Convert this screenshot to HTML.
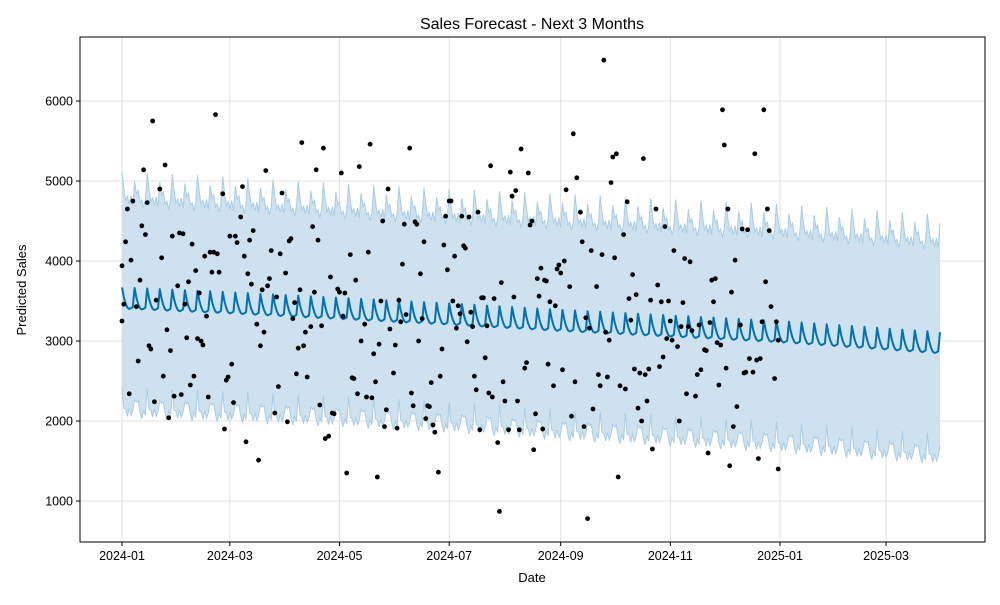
<!DOCTYPE html>
<html><head><meta charset="utf-8"><style>
html,body{margin:0;padding:0;background:#fff;}
svg text{font-family:"Liberation Sans","DejaVu Sans",sans-serif;fill:#000;}
</style></head><body>
<svg id="chart" width="1000" height="600" viewBox="0 0 1000 600" xmlns="http://www.w3.org/2000/svg">
<rect x="0" y="0" width="1000" height="600" fill="#fff"/>
<g id="grid"></g>
<g id="band"></g>
<g id="line"></g>
<g id="dots"></g>
<rect x="80" y="37" width="905" height="505" fill="none" stroke="#000" stroke-width="1"/>
<g id="axes"></g>
<text x="532" y="29" font-size="16" text-anchor="middle">Sales Forecast - Next 3 Months</text>
<text x="532" y="582" font-size="13" text-anchor="middle">Date</text>
<text x="26" y="290" font-size="13" text-anchor="middle" transform="rotate(-90 26 290)">Predicted Sales</text>
</svg>
<script>
const obsDays=[0,0,1,2,3,4,5,6,8,9,10,11,12,13,14,15,16,17,18,19,21,22,23,24,25,26,27,28,29,31,32,33,34,35,36,37,38,39,40,41,42,43,44,45,46,47,48,49,50,51,52,53,54,56,57,58,59,60,61,62,63,64,66,67,68,69,70,71,72,73,75,76,77,78,79,80,81,82,83,85,86,87,88,89,91,92,93,94,95,96,97,98,99,100,101,102,103,105,106,107,108,109,110,111,112,113,115,116,117,118,120,121,122,123,124,125,127,128,129,130,131,132,133,135,136,137,138,139,140,141,142,143,144,145,146,147,148,149,151,152,153,154,155,156,157,158,160,161,162,163,164,165,166,167,168,169,170,171,172,173,174,176,177,178,179,180,181,182,183,184,185,186,187,188,189,190,191,192,193,194,195,196,197,198,199,200,201,202,203,204,205,206,207,209,210,211,212,213,215,216,217,218,219,220,221,222,224,225,226,227,228,229,230,231,232,233,234,235,236,237,238,240,241,242,243,244,245,246,247,249,250,251,252,253,255,256,257,258,259,260,261,262,264,265,266,267,268,269,270,271,272,273,274,275,276,277,279,280,281,282,283,284,285,286,287,288,289,290,291,292,293,294,295,297,298,299,300,301,302,303,304,305,306,307,309,310,311,312,313,314,315,316,317,319,320,321,322,324,325,326,327,328,329,330,331,332,333,334,335,336,337,338,339,340,341,342,344,345,346,347,348,349,351,352,353,354,355,356,357,358,359,360,361,363,364,365,365];
const obsSales=[3250,3940,3460,4240,4650,2340,4010,4750,3430,2750,3760,4440,5140,4330,4730,2940,2900,5750,2240,3510,4900,4040,2560,5200,3140,2040,2880,4310,2310,3690,4350,2330,4340,3460,3040,3740,2450,4210,2560,3880,3030,3600,3000,2950,4060,3310,2300,4110,3860,4110,5830,4090,3860,4840,1900,2510,2550,4310,2710,2230,4310,4230,4550,4930,4060,1740,3840,4260,3710,4380,3210,1510,2940,3640,3110,5130,3690,3780,4130,2100,3550,2430,4090,4850,3850,1990,4250,4280,3280,3480,2590,2910,3640,5480,2940,3110,2550,3180,4430,3610,5140,4260,2200,3190,5410,1780,1810,3800,2100,2090,3650,3610,5100,3310,3600,1350,4080,2540,2530,3760,2340,5180,3000,3210,2300,4110,5460,2290,2840,2490,1300,2960,3500,4500,1930,2140,4900,3150,2600,2950,1910,3510,3240,3960,4460,3330,5410,2350,2190,4490,4460,3000,3840,3280,4240,2030,2190,2180,2480,1950,1860,1360,2560,2900,4200,4560,3890,4750,4750,3500,4060,3160,3440,3340,4560,4190,4160,2990,4550,3360,3180,2560,2390,4610,1890,3540,3540,2790,3190,2350,5190,2300,3530,1730,870,3730,2490,2250,1890,5110,4810,3550,4880,2250,1890,5400,2660,2730,5100,4450,4500,1640,2090,3780,3560,3910,1900,3760,3750,2710,3490,2440,3440,3900,3950,3850,2640,4000,4890,3680,2060,5590,2490,5040,4610,4240,1930,3290,780,3160,4130,2150,3680,2580,2440,4080,6510,3110,2550,3010,4980,5300,4040,5340,1300,2440,4330,2400,4740,3530,3260,3830,2650,3580,2160,2600,2000,5280,2580,2250,2650,3510,1650,4650,3700,2680,3490,2800,4430,3030,3500,3250,3010,4130,2930,2000,3180,3480,4030,2340,3180,3990,3130,2310,2580,3200,2640,2890,2880,1600,3230,3760,3490,3780,2980,2450,2950,5890,5450,2660,4650,1440,3610,1930,4010,2180,3200,4400,2600,2610,4390,2780,2610,5340,2760,1530,2780,3240,5890,3740,4650,4380,3430,2530,3240,3010,1400];
const trendDays=[0,60,121,182,244,305,366,455];
const trendValues=[3480,3420,3350,3280,3200,3130,3060,2920];
const weekly=[190,70,-10,-60,-75,-65,-50];
const bandHalf=[1330,1320,1310,1310,1330,1330,1340,1350];
const bandWiggle=[120,30,-40,60,-20,80,-60,10,-30,90,-10,40,-70,20];
const yTicks=[1000,2000,3000,4000,5000,6000];
const xTickDays=[0,60,121,182,244,305,366,425];
const xTickLabels=["2024-01","2024-03","2024-05","2024-07","2024-09","2024-11","2025-01","2025-03"];
const lastDay=455;

const NS="http://www.w3.org/2000/svg";
const xS=d=>122+d*(658/366);
const yS=v=>581-v*0.08;
function mk(tag,attrs,parent){const e=document.createElementNS(NS,tag);for(const k in attrs)e.setAttribute(k,attrs[k]);parent.appendChild(e);return e;}
function interp(ds,vs,d){for(let i=0;i<ds.length-1;i++){if(d<=ds[i+1]){const t=(d-ds[i])/(ds[i+1]-ds[i]);return vs[i]+t*(vs[i+1]-vs[i]);}}return vs[vs.length-1];}

const grid=document.getElementById('grid'),axes=document.getElementById('axes');
yTicks.forEach(v=>{
 const g=mk('line',{x1:80,x2:985,y1:yS(v),y2:yS(v),stroke:'#e0e0e0','stroke-width':1},grid);
 
 
 const t=mk('line',{x1:76,x2:80,y1:yS(v),y2:yS(v),stroke:'#000'},axes);
 
 
 const l=mk('text',{x:73,y:yS(v)+4.5,'font-size':12.5,'text-anchor':'end'},axes);
 l.textContent=v;
 
 
});
xTickDays.forEach((d,i)=>{
 const g=mk('line',{x1:xS(d),x2:xS(d),y1:37,y2:542,stroke:'#e0e0e0','stroke-width':1},grid);
 
 
 const t=mk('line',{x1:xS(d),x2:xS(d),y1:542,y2:546,stroke:'#000'},axes);
 
 
 const l=mk('text',{x:xS(d),y:560,'font-size':12.5,'text-anchor':'middle'},axes);
 l.textContent=xTickLabels[i];
 
 
});

const yhat=[],up=[],lo=[];
for(let d=0;d<=lastDay;d++){
 const y=interp(trendDays,trendValues,d)+weekly[d%7];
 const h=interp(trendDays,bandHalf,d);
 yhat.push(y);
 up.push(y+h+bandWiggle[d%14]);
 lo.push(y-h+bandWiggle[(d+5)%14]);
}
let upPts=up.map((v,d)=>xS(d).toFixed(1)+','+yS(v).toFixed(1));
let loPts=lo.map((v,d)=>xS(d).toFixed(1)+','+yS(v).toFixed(1));
const band=document.getElementById('band');
const poly=mk('polygon',{points:upPts.concat(loPts.slice().reverse()).join(' '),fill:'#cde1ee',stroke:'none'},band);


const ue=mk('polyline',{points:upPts.join(' '),fill:'none',stroke:'#a9cde4','stroke-width':1},band);


const le=mk('polyline',{points:loPts.join(' '),fill:'none',stroke:'#a9cde4','stroke-width':1},band);


const fl=mk('polyline',{points:yhat.map((v,d)=>xS(d).toFixed(1)+','+yS(v).toFixed(1)).join(' '),fill:'none',stroke:'#0072B2','stroke-width':2,'stroke-linejoin':'round'},document.getElementById('line'));


const dots=document.getElementById('dots');
obsDays.forEach((d,i)=>{
 const c=mk('circle',{cx:xS(d).toFixed(1),cy:yS(obsSales[i]).toFixed(1),r:2.4,fill:'#000'},dots);
 
 
});
</script>
</body></html>
